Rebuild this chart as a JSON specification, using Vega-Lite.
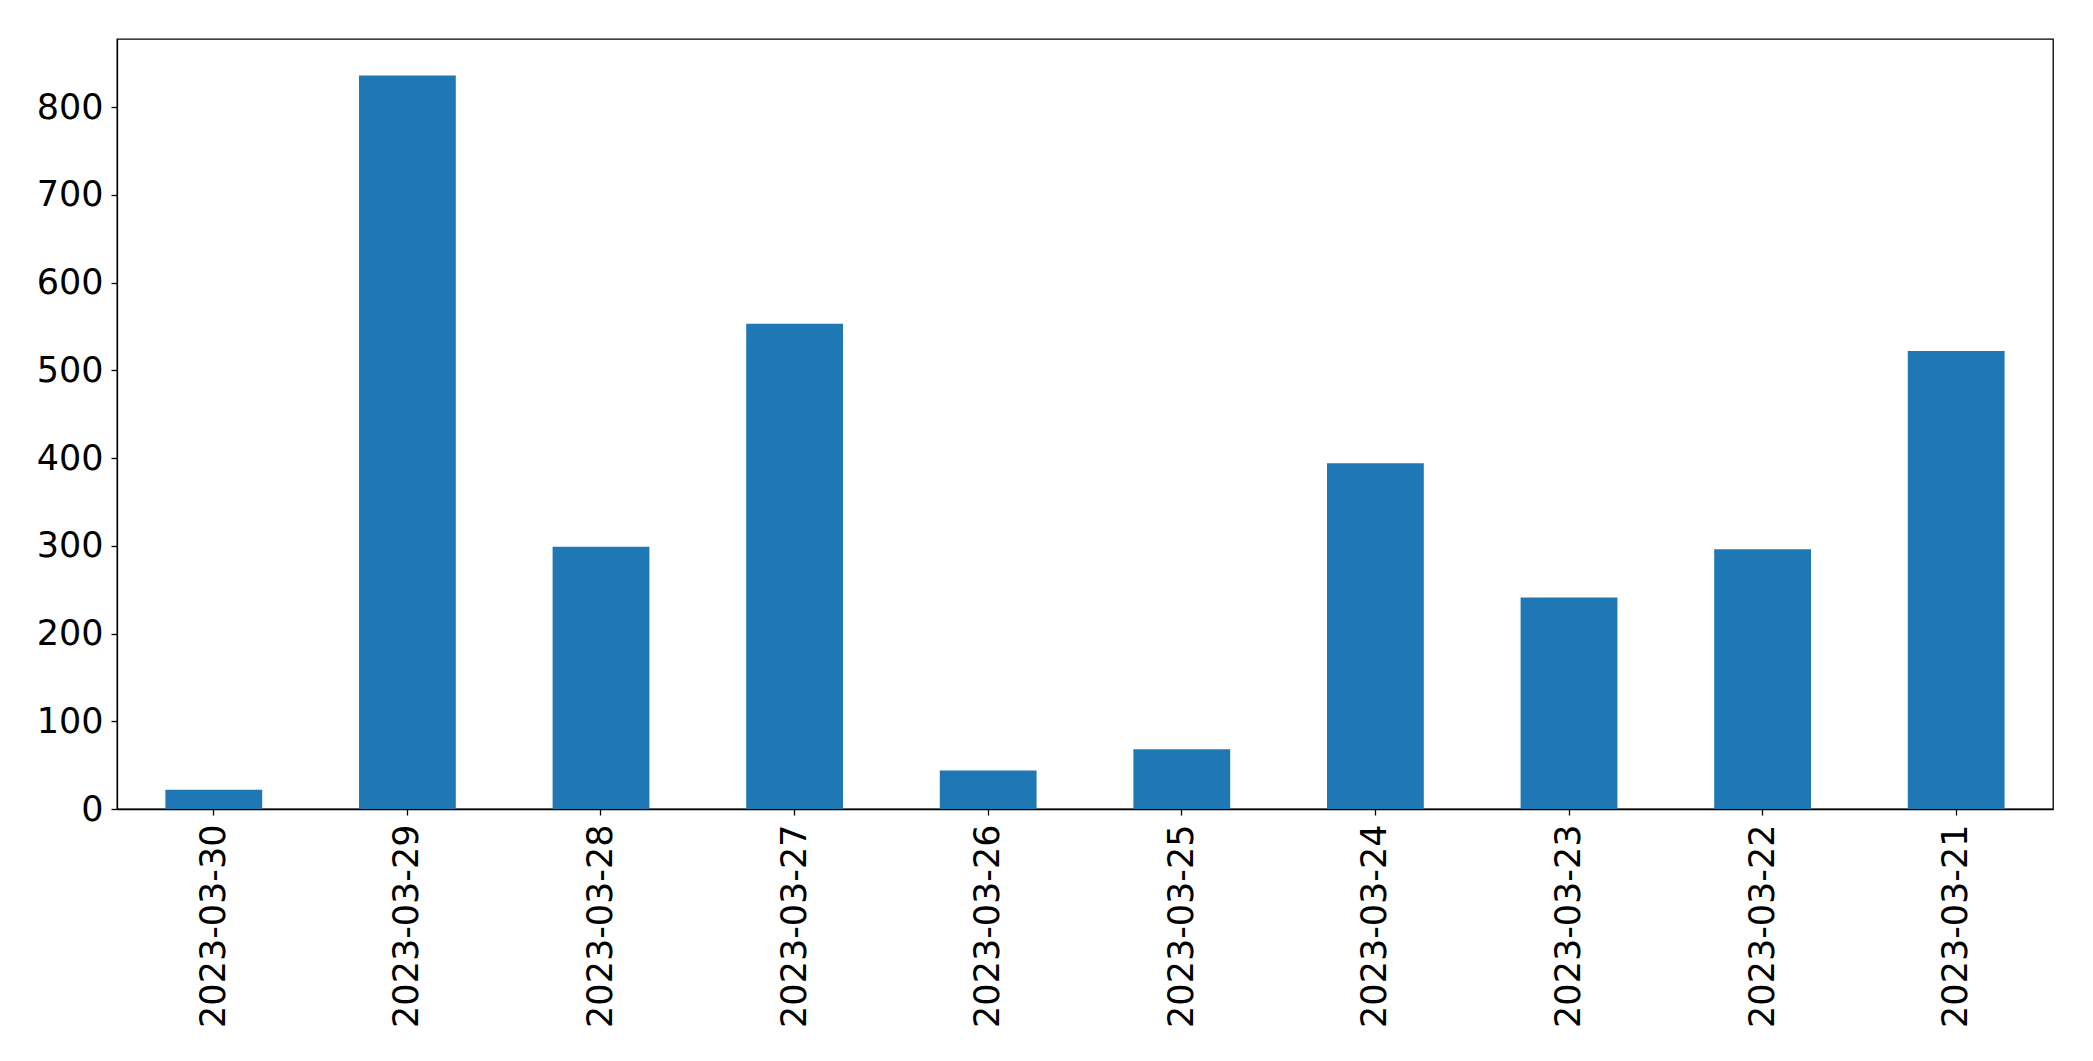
{
  "$schema": "https://vega.github.io/schema/vega-lite/v6.json",
  "autosize": "none",
  "width": 1936,
  "height": 770,
  "padding": {"left": 117, "top": 39, "right": 40, "bottom": 252},
  "background": "white",
  "config": {
    "view": {"stroke": "black", "strokeWidth": 1.3},
    "font": "DejaVu Sans",
    "axis": {
      "labelFont": "DejaVu Sans",
      "labelFontSize": 35,
      "labelLimit": 0,
      "labelColor": "black",
      "domainColor": "black",
      "domainWidth": 1.3,
      "tickColor": "black",
      "tickWidth": 1.3,
      "tickSize": 6,
      "grid": false,
      "title": null
    }
  },
  "data": {
    "values": [
      {"date": "2023-03-30", "count": 22},
      {"date": "2023-03-29", "count": 836},
      {"date": "2023-03-28", "count": 299},
      {"date": "2023-03-27", "count": 553},
      {"date": "2023-03-26", "count": 44},
      {"date": "2023-03-25", "count": 68},
      {"date": "2023-03-24", "count": 394},
      {"date": "2023-03-23", "count": 241},
      {"date": "2023-03-22", "count": 296},
      {"date": "2023-03-21", "count": 522}
    ]
  },
  "mark": {"type": "bar", "color": "#1f77b4"},
  "encoding": {
    "x": {
      "field": "date",
      "type": "nominal",
      "sort": null,
      "scale": {"paddingInner": 0.5, "paddingOuter": 0.25},
      "axis": {"labelAngle": 270, "labelPadding": 9, "labelLimit": 0, "title": null}
    },
    "y": {
      "field": "count",
      "type": "quantitative",
      "scale": {"domain": [0, 877.6], "nice": false, "zero": true},
      "axis": {"values": [0, 100, 200, 300, 400, 500, 600, 700, 800], "labelPadding": 8, "title": null}
    }
  }
}
